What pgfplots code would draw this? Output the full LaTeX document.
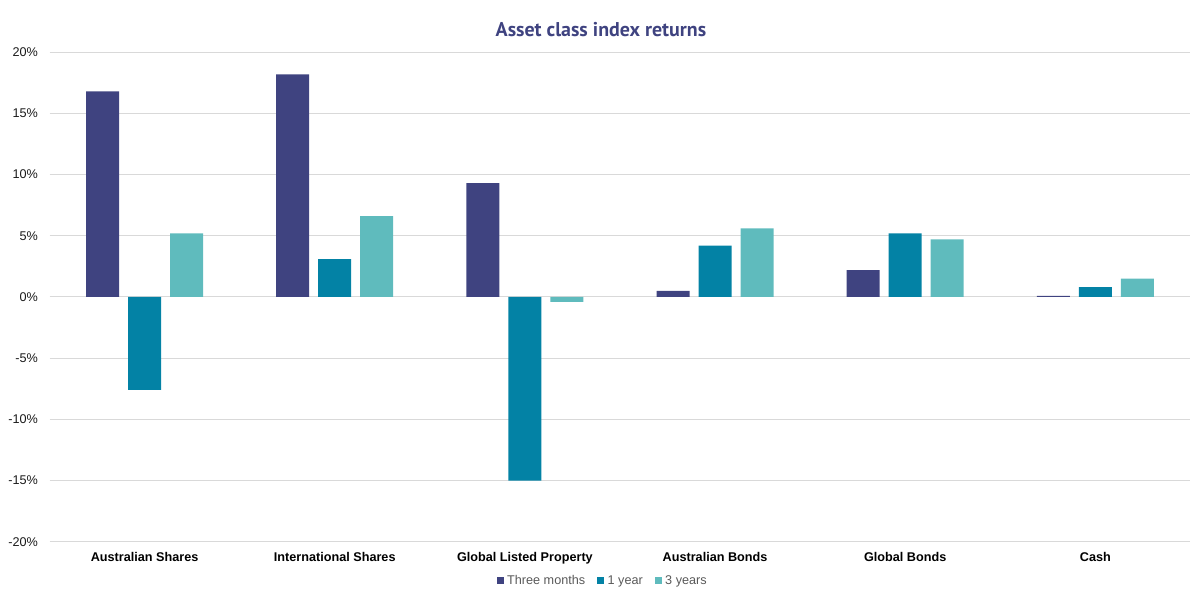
\documentclass[border=0pt]{standalone}
\usepackage{pgfplots}
\pgfplotsset{compat=1.18}
\usepackage{fontspec}
\setmainfont{Liberation Sans}
\newfontfamily\titlefont{PT Sans}
\definecolor{c1}{HTML}{3F4380}
\definecolor{c2}{HTML}{0382A5}
\definecolor{c3}{HTML}{5FBBBD}
\definecolor{gridc}{HTML}{D9D9D9}
\definecolor{legc}{HTML}{595959}
\definecolor{tickc}{HTML}{1A1A1A}
\pgfplotsset{sqlegend/.style={legend image code/.code={\fill[##1] (0bp,-3.3bp) rectangle (7bp,3.7bp);}}}
\begin{document}
\begin{tikzpicture}[x=1bp,y=1bp]
\path[use as bounding box] (0,0) rectangle (1200,612);
\begin{axis}[
 at={(49.5bp,70.3bp)}, anchor=south west,
 width=1141bp, height=489.4bp, scale only axis,
 ymin=-20, ymax=20, xmin=-0.5, xmax=5.5,
 ytick={-20,-15,...,20},
 yticklabels={-20\%,-15\%,-10\%,-5\%,0\%,5\%,10\%,15\%,20\%},
 xtick={0,1,2,3,4,5},
 xticklabels={Australian Shares,International Shares,Global Listed Property,Australian Bonds,Global Bonds,Cash},
 ybar=9bp, bar width=33bp,
 axis line style={draw=none},
 major tick length=0pt,
 ymajorgrids, grid style={gridc, line width=1bp},
 yticklabel style={font=\fontsize{12.7}{15}\selectfont, text=tickc, xshift=-8bp},
 xticklabel style={font=\fontsize{12.7}{15}\selectfont\bfseries, text=black, yshift=-7.3bp},
 title={Asset class index returns},
 title style={at={(0.4833,1.0333)}, anchor=center, font=\titlefont\bfseries\fontsize{20}{22}\selectfont, text=c1},
 legend style={at={(0.4855,-0.0797)}, anchor=center, draw=none, fill=none,
   legend columns=-1, font=\fontsize{12.7}{15}\selectfont, text=legc,
   nodes={inner xsep=3.2bp},
   /tikz/every even column/.append style={column sep=9bp}},
]
\addplot[fill=c1, draw=none, sqlegend] coordinates {(0,16.8) (1,18.2) (2,9.3) (3,0.5) (4,2.2) (5,0.1)};
\addplot[fill=c2, draw=none, sqlegend] coordinates {(0,-7.6) (1,3.1) (2,-15.0) (3,4.2) (4,5.2) (5,0.8)};
\addplot[fill=c3, draw=none, sqlegend] coordinates {(0,5.2) (1,6.6) (2,-0.4) (3,5.6) (4,4.7) (5,1.5)};
\legend{Three months,1 year,3 years}
\end{axis}
\end{tikzpicture}
\end{document}
